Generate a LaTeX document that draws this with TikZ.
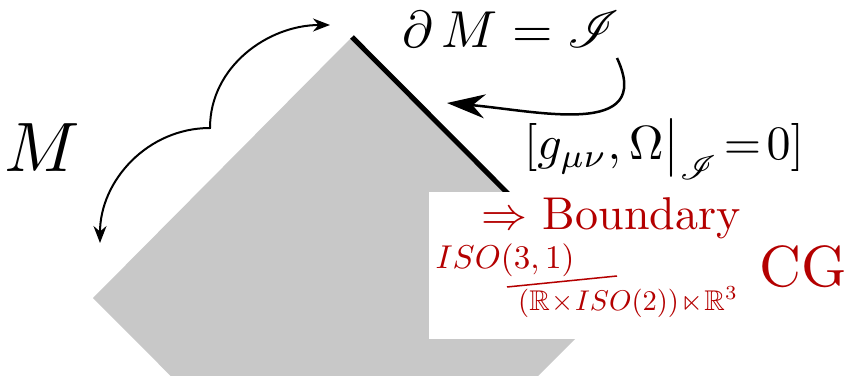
\documentclass[tikz,border=0pt]{standalone}
\usepackage{amsmath,amssymb,mathrsfs}
\usepackage{xcolor}
\usetikzlibrary{arrows.meta}
\definecolor{bdred}{RGB}{180,0,0}
\definecolor{bulk}{RGB}{200,200,200}

\begin{document}
\begin{tikzpicture}[x=1pt,y=1pt,
  blktxt/.style={inner sep=0pt,anchor=base},
  redtxt/.style={blktxt,text=bdred}]
\clip (0,0) rectangle (845,375);
% the bulk and its boundary
\coordinate (top) at (352,338);
\coordinate (right) at (614,75);
\coordinate (bottom) at (354,-185);
\coordinate (left) at (93,77);
\fill[bulk] (top) -- (right) -- (bottom) -- (left) -- cycle;
\draw[line width=5pt] (top) -- (right);
\fill[white] (429,36) rectangle (762,183);
% labels
\node[blktxt,scale=7.0](m) at (42,203){$M$};
\node[blktxt,scale=5.2](scri) at (511,327){$\partial\,M=\mathscr{I}$};
\node[blktxt,scale=4.8](bc) at (664,215){$[g_{\mu\nu},\Omega\big|_{\mathscr{I}}\!=\!0]$};
\node[redtxt,scale=4.6](bdy) at (611,145){$\Rightarrow$ Boundary};
\node[redtxt,scale=3.3](num) at (505,107){$ISO(3,1)$};
\node[redtxt,scale=2.85](den) at (628,65){$(\mathbb{R}\!\times\! ISO(2))\!\ltimes\!\mathbb{R}^3$};
\node[redtxt,scale=5.8](cg) at (803,89){CG};
\draw[bdred,line width=1.5pt] (507,88) -- (617,99);
% arrows
\coordinate (ma) at (100,132);
\coordinate (mc) at (210,247);
\coordinate (mb) at (330,350);
\draw[line width=2pt,{Stealth[length=17pt,width=13pt]}-{Stealth[length=17pt,width=13pt]}]
  (ma) to[out=90,in=180] (mc) to[out=90,in=180] (mb);
\coordinate (sa) at (617,317);
\coordinate (sb) at (447,272);
\draw[line width=2.5pt,-{Stealth[length=38pt,width=24pt]}] (sa) to[out=-65,in=-5,looseness=1.3] (sb);
\end{tikzpicture}
\end{document}
